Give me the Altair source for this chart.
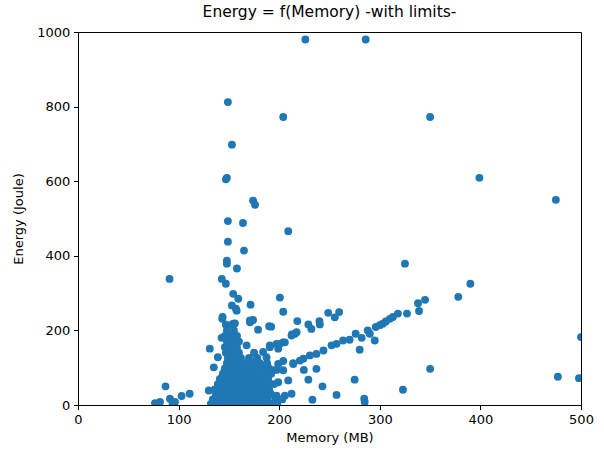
import altair as alt
import pandas as pd

# Memory use (MB) and energy (Joule) of each measured run
memory = [
    # sparse high-energy runs
    226, 286, 149, 204, 350, 153, 148, 147, 399, 475, 174, 176, 149, 164, 209,
    149, 165, 148, 148, 325, 158, 91, 143, 147, 390, 378,
    # lower ray
    224, 230.5, 237, 244, 252, 257, 263.5, 270, 276, 282, 288, 290, 295, 296,
    303, 310, 318, 327, 338, 345, 339, 313, 306, 300, 280,
    # upper ray
    200.7, 204, 192, 218, 215.6, 212.3, 229, 232, 240, 240.4, 248.7, 255.3,
    259.6, 204, 197.4, 190.7, 199, 171.5, 157.7, 143.7, 171, 174, 156, 179,
    217.3, 212.6,
    # scattered low-energy runs
    350, 477, 498, 500, 323, 275, 284.5, 285, 257, 243, 233, 229, 224.5, 237,
    214, 204, 199, 197.4, 190.7, 209, 199, 190.7, 212.3, 205.6, 197.4, 190.7,
    220.5, 214,
    # small-memory runs
    87, 76.5, 81.5, 91.4, 94, 96.4, 103, 111, 130, 131, 139, 135, 142.7, 147.7,
    167.6, 184, 154.3, 159.3, 153, 157, 143.4, 154.3, 170.9, 190,
    164, 171, 177.5, 187.4, 190.7, 200.7, 205.6, 180.8, 187.4, 194, 204,
    # main cluster
    132, 138, 144, 150, 156, 162, 168, 174, 180, 186, 192, 198,
    134, 140, 146, 152, 158, 164, 170, 176, 182, 188, 196, 203,
    137, 143, 149, 155, 161, 167, 173, 179, 185, 192,
    136, 142, 148, 154, 160, 166, 172, 178, 184, 190,
    139, 145, 151, 157, 163, 169, 175, 181, 187, 195,
    141, 147, 153, 159, 165, 171, 177, 183, 189,
    144, 150, 156, 162, 168, 174, 180, 186, 192,
    146, 152, 158, 164, 170, 177, 184, 190,
    148, 154, 160, 167, 173, 181, 188,
    149, 155, 162, 170, 178,
    147, 153, 160, 175,
    146, 152, 158,
    148, 154, 160,
    146, 152, 158,
    148, 155,
    147, 153,
]

energy = [
    980, 980, 812, 772, 772, 698, 609, 605, 609, 550, 548, 537, 493, 488, 466,
    438, 414, 387, 379, 379, 366, 338, 338, 325, 325, 290,
    124, 133, 137, 146, 160, 164, 173, 175, 191, 180, 200, 191, 173, 209,
    218, 231, 245, 245, 273, 282, 252, 236, 224, 214, 148,
    288, 250, 210, 225, 191, 186, 216, 204, 225, 216, 247, 235,
    249, 168, 164, 160, 151, 269, 253, 236, 222, 228, 219, 202,
    195, 189,
    97, 76, 72, 182, 41, 68, 17, 8, 27, 50, 14, 68, 94, 97,
    112, 118, 110, 94, 93, 66, 61, 57, 30, 25, 25, 34,
    119, 110,
    50, 5, 8, 17, 5, 8, 24, 30, 39, 151, 128, 101, 180, 155,
    160, 142, 298, 285, 267, 258, 231, 218, 227, 211,
    93, 110, 119, 128, 155, 164, 168, 57, 39, 93, 93,
    3, 3, 3, 3, 3, 3, 3, 3, 3, 3, 3, 3,
    15, 15, 15, 15, 15, 15, 15, 15, 15, 15, 15, 15,
    28, 28, 28, 28, 28, 28, 28, 28, 28, 28,
    42, 42, 42, 42, 42, 42, 42, 42, 42, 42,
    56, 56, 56, 56, 56, 56, 56, 56, 56, 56,
    70, 70, 70, 70, 70, 70, 70, 70, 70,
    84, 84, 84, 84, 84, 84, 84, 84, 84,
    98, 98, 98, 98, 98, 98, 98, 98,
    112, 112, 112, 112, 112, 112, 112,
    126, 126, 126, 126, 126,
    140, 140, 140, 140,
    155, 155, 155,
    170, 170, 170,
    185, 185, 185,
    200, 200,
    215, 215,
]

x_ticks = [0, 100, 200, 300, 400, 500]
y_ticks = [0, 200, 400, 600, 800, 1000]

df = pd.DataFrame({"memory": memory, "energy": energy})

FONT = "DejaVu Sans"

axis_style = dict(
    grid=False,
    domainColor="black",
    domainWidth=1,
    tickColor="black",
    tickSize=4.6,
    tickWidth=1,
    labelColor="black",
    labelFont=FONT,
    labelFontSize=13,
    labelPadding=3.5,
    labelFlush=False,
    labelOverlap=False,
    titleColor="black",
    titleFont=FONT,
    titleFontSize=13,
    titleFontWeight="normal",
    format="d",
)

chart = (
    alt.Chart(df)
    .mark_circle(size=62, color="#1f77b4", opacity=1, clip=True)
    .encode(
        x=alt.X(
            "memory:Q",
            title="Memory (MB)",
            scale=alt.Scale(domain=[0, 500], nice=False, zero=False),
            axis=alt.Axis(values=x_ticks, titlePadding=5, **axis_style),
        ),
        y=alt.Y(
            "energy:Q",
            title="Energy (Joule)",
            scale=alt.Scale(domain=[0, 1000], nice=False, zero=False),
            axis=alt.Axis(values=y_ticks, titlePadding=11, **axis_style),
        ),
    )
    .properties(
        width=503,
        height=373,
        background="white",
        title=alt.Title(
            "Energy = f(Memory) -with limits-",
            fontSize=15.5,
            fontWeight="normal",
            font=FONT,
            color="black",
            offset=6,
        ),
        padding={"left": 78, "top": 32, "right": 23, "bottom": 49},
        autosize=alt.AutoSizeParams(type="none"),
    )
    .configure_view(stroke="black", strokeWidth=1)
)

chart.save("out.html", embed_options={"renderer": "svg", "actions": False})
